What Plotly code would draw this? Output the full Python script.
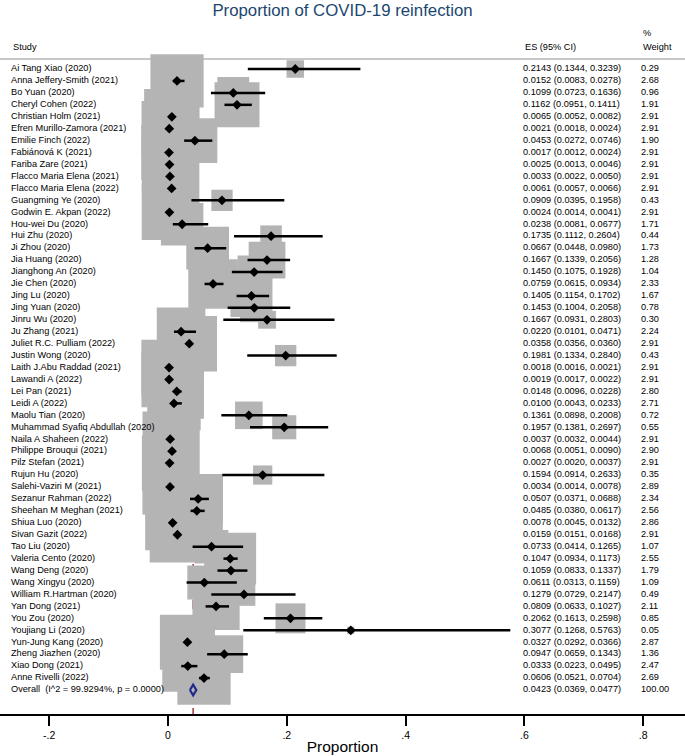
import plotly.graph_objects as go

studies = [
    "Ai Tang Xiao (2020)", "Anna Jeffery-Smith (2021)", "Bo Yuan (2020)", "Cheryl Cohen (2022)",
    "Christian Holm (2021)", "Efren Murillo-Zamora (2021)", "Emilie Finch (2022)", "Fabiánová K (2021)",
    "Fariba Zare (2021)", "Flacco Maria Elena (2021)", "Flacco Maria Elena (2022)", "Guangming Ye (2020)",
    "Godwin E. Akpan (2022)", "Hou-wei Du (2020)", "Hui Zhu (2020)", "Ji Zhou (2020)",
    "Jia Huang (2020)", "Jianghong An (2020)", "Jie Chen (2020)", "Jing Lu (2020)",
    "Jing Yuan (2020)", "Jinru Wu (2020)", "Ju Zhang (2021)", "Juliet R.C. Pulliam (2022)",
    "Justin Wong (2020)", "Laith J.Abu Raddad (2021)", "Lawandi A (2022)", "Lei Pan (2021)",
    "Leidi A (2022)", "Maolu Tian (2020)", "Muhammad Syafiq Abdullah (2020)", "Naila A Shaheen (2022)",
    "Philippe Brouqui (2021)", "Pilz Stefan (2021)", "Rujun Hu (2020)", "Salehi-Vaziri M (2021)",
    "Sezanur Rahman (2022)", "Sheehan M Meghan (2021)", "Shiua Luo (2020)", "Sivan Gazit (2022)",
    "Tao Liu (2020)", "Valeria Cento (2020)", "Wang Deng (2020)", "Wang Xingyu (2020)",
    "William R.Hartman (2020)", "Yan Dong (2021)", "You Zou (2020)", "Youjiang Li (2020)",
    "Yun-Jung Kang (2020)", "Zheng Jiazhen (2020)", "Xiao Dong (2021)", "Anne Rivelli (2022)",
]
es = [0.2143, 0.0152, 0.1099, 0.1162, 0.0065, 0.0021, 0.0453, 0.0017, 0.0025, 0.0033, 0.0061, 0.0909,
      0.0024, 0.0238, 0.1735, 0.0667, 0.1667, 0.1450, 0.0759, 0.1405, 0.1453, 0.1667, 0.0220, 0.0358,
      0.1981, 0.0018, 0.0019, 0.0148, 0.0100, 0.1361, 0.1957, 0.0037, 0.0068, 0.0027, 0.1594, 0.0034,
      0.0507, 0.0485, 0.0078, 0.0159, 0.0733, 0.1047, 0.1059, 0.0611, 0.1279, 0.0809, 0.2062, 0.3077,
      0.0327, 0.0947, 0.0333, 0.0606]
lo = [0.1344, 0.0083, 0.0723, 0.0951, 0.0052, 0.0018, 0.0272, 0.0012, 0.0013, 0.0022, 0.0057, 0.0395,
      0.0014, 0.0081, 0.1112, 0.0448, 0.1339, 0.1075, 0.0615, 0.1154, 0.1004, 0.0931, 0.0101, 0.0356,
      0.1334, 0.0016, 0.0017, 0.0096, 0.0043, 0.0898, 0.1381, 0.0032, 0.0051, 0.0020, 0.0914, 0.0014,
      0.0371, 0.0380, 0.0045, 0.0151, 0.0414, 0.0934, 0.0833, 0.0313, 0.0729, 0.0633, 0.1613, 0.1268,
      0.0292, 0.0659, 0.0223, 0.0521]
hi = [0.3239, 0.0278, 0.1636, 0.1411, 0.0082, 0.0024, 0.0746, 0.0024, 0.0046, 0.0050, 0.0066, 0.1958,
      0.0041, 0.0677, 0.2604, 0.0980, 0.2056, 0.1928, 0.0934, 0.1702, 0.2058, 0.2803, 0.0471, 0.0360,
      0.2840, 0.0021, 0.0022, 0.0228, 0.0233, 0.2008, 0.2697, 0.0044, 0.0090, 0.0037, 0.2633, 0.0078,
      0.0688, 0.0617, 0.0132, 0.0168, 0.1265, 0.1173, 0.1337, 0.1159, 0.2147, 0.1027, 0.2598, 0.5763,
      0.0366, 0.1343, 0.0495, 0.0704]
weight = [0.29, 2.68, 0.96, 1.91, 2.91, 2.91, 1.90, 2.91, 2.91, 2.91, 2.91, 0.43, 2.91, 1.71, 0.44, 1.73,
          1.28, 1.04, 2.33, 1.67, 0.78, 0.30, 2.24, 2.91, 0.43, 2.91, 2.91, 2.80, 2.71, 0.72, 0.55, 2.91,
          2.90, 2.91, 0.35, 2.89, 2.34, 2.56, 2.86, 2.91, 1.07, 2.55, 1.79, 1.09, 0.49, 2.11, 0.85, 0.05,
          2.87, 1.36, 2.47, 2.69]

overall_label = "Overall  (I^2 = 99.9294%, p = 0.0000)"
overall_es, overall_lo, overall_hi, overall_w = 0.0423, 0.0369, 0.0477, 100.00

tick_vals = [-0.2, 0, 0.2, 0.4, 0.6, 0.8]
tick_text = ["-.2", "0", ".2", ".4", ".6", ".8"]

# layout geometry
W, H = 685, 756
px_per_unit = 594.0
x0_px = 168.0
xr = [-x0_px / px_per_unit, (W - x0_px) / px_per_unit]
plot_top, plot_bot = 60, 714
row0_px, rowlast_px = 69.0, 690.0
n = len(studies)
row_h = (rowlast_px - row0_px) / n
yr = [n + (plot_bot - rowlast_px) / row_h, -(row0_px - plot_top) / row_h]

rows = list(range(n))
orow = n

FONT = "Liberation Sans, Arial, sans-serif"
fig = go.Figure()

# overall dashed line
fig.add_trace(go.Scatter(x=[overall_es, overall_es], y=[yr[1], yr[0]], mode="lines",
                         line=dict(color="#a8323e", width=1.5, dash="dash"),
                         hoverinfo="skip", showlegend=False, cliponaxis=False))

# weight boxes (area proportional to weight)
fig.add_trace(go.Scatter(x=es, y=rows, mode="markers",
                         marker=dict(symbol="square", size=[32.5 * w ** 0.5 for w in weight],
                                     color="#b4b4b4", opacity=1, line=dict(width=0)),
                         hoverinfo="skip", showlegend=False, cliponaxis=False))

# CI lines
cx, cy = [], []
for r, a, b in zip(rows, lo, hi):
    cx += [a, b, None]
    cy += [r, r, None]
fig.add_trace(go.Scatter(x=cx, y=cy, mode="lines", line=dict(color="black", width=2.5),
                         hoverinfo="skip", showlegend=False, cliponaxis=False))

# point estimates
fig.add_trace(go.Scatter(x=es, y=rows, mode="markers",
                         marker=dict(symbol="diamond", size=7.5, color="black", opacity=1),
                         hoverinfo="skip", showlegend=False, cliponaxis=False))

# overall diamond
dh = 0.45
fig.add_trace(go.Scatter(x=[overall_lo, overall_es, overall_hi, overall_es, overall_lo],
                         y=[orow, orow - dh, orow, orow + dh, orow], mode="lines",
                         line=dict(color="#1f2a8c", width=2.2),
                         hoverinfo="skip", showlegend=False, cliponaxis=False))

# text columns
lab_x = xr[0] + 11 / px_per_unit
es_x = xr[0] + 523 / px_per_unit
w_x = xr[0] + 641 / px_per_unit
tf = dict(family=FONT, size=9.2, color="black")
fig.add_trace(go.Scatter(x=[lab_x] * (n + 1), y=rows + [orow], mode="text",
                         text=studies + [overall_label], textposition="middle right",
                         textfont=tf, hoverinfo="skip", showlegend=False, cliponaxis=False))
es_txt = [f"{e:.4f} ({a:.4f}, {b:.4f})" for e, a, b in zip(es, lo, hi)]
es_txt.append(f"{overall_es:.4f} ({overall_lo:.4f}, {overall_hi:.4f})")
fig.add_trace(go.Scatter(x=[es_x] * (n + 1), y=rows + [orow], mode="text",
                         text=es_txt, textposition="middle right",
                         textfont=tf, hoverinfo="skip", showlegend=False, cliponaxis=False))
w_txt = [f"{w:.2f}" for w in weight] + [f"{overall_w:.2f}"]
fig.add_trace(go.Scatter(x=[w_x] * (n + 1), y=rows + [orow], mode="text",
                         text=w_txt, textposition="middle right",
                         textfont=tf, hoverinfo="skip", showlegend=False, cliponaxis=False))

def py(ypx):
    return (plot_bot - ypx) / (plot_bot - plot_top)

anns = [
    dict(text="Study", x=11 / W, y=py(47), xanchor="left"),
    dict(text="ES (95% CI)", x=523 / W, y=py(47), xanchor="left"),
    dict(text="%", x=641 / W, y=py(33), xanchor="left"),
    dict(text="Weight", x=641 / W, y=py(47), xanchor="left"),
]
for a in anns:
    a.update(xref="paper", yref="paper", yanchor="middle", showarrow=False,
             font=dict(family=FONT, size=9.2, color="black"))

fig.update_layout(
    width=W, height=H,
    margin=dict(l=0, r=0, t=plot_top, b=H - plot_bot, pad=0),
    paper_bgcolor="white", plot_bgcolor="white",
    title=dict(text="Proportion of COVID-19 reinfection", x=0.5, xanchor="center",
               y=1 - 10 / H, yanchor="middle", yref="container",
               font=dict(family=FONT, size=16.8, color="#1a476f")),
    annotations=anns,
    shapes=[dict(type="line", xref="paper", yref="paper", x0=0, x1=1, y0=py(59), y1=py(59),
                 line=dict(color="#c8c8c8", width=2), layer="below")],
    xaxis=dict(range=xr, showgrid=False, zeroline=False, showline=True, linecolor="black",
               linewidth=2, ticks="outside", ticklen=10, tickwidth=2, tickcolor="black",
               tickvals=tick_vals, ticktext=tick_text,
               tickfont=dict(family=FONT, size=10.5, color="black"),
               title=dict(text="Proportion", font=dict(family=FONT, size=15.5, color="black"),
                          standoff=2)),
    yaxis=dict(range=yr, visible=False),
)

fig.write_html("out.html", config={"displayModeBar": False},
               post_script="document.body.style.margin='0';")
